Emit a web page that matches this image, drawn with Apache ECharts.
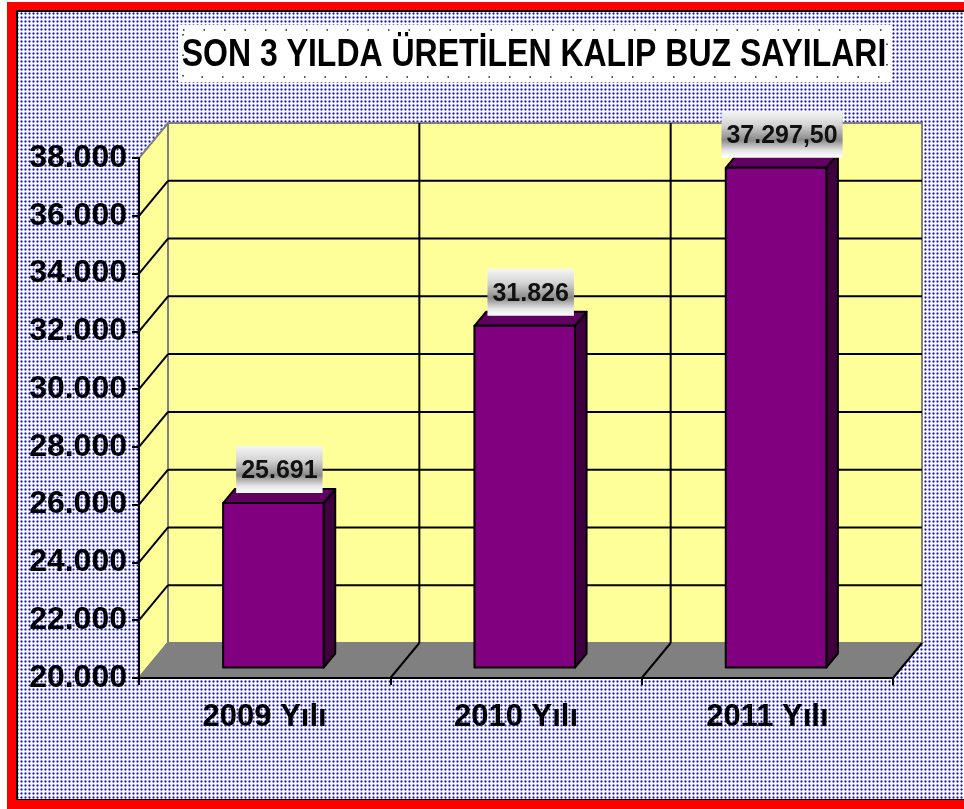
<!DOCTYPE html>
<html>
<head>
<meta charset="utf-8">
<script src="https://cdn.jsdelivr.net/npm/echarts@6/dist/echarts.min.js"></script>
<style>
  html, body { margin: 0; padding: 0; background: #fff; }
  #chart { width: 964px; height: 809px; }
</style>
</head>
<body>
<div id="chart"></div>
<script>
const titleText = 'SON 3 YILDA ÜRETİLEN KALIP BUZ SAYILARI'
const categories = ['2009 Yılı', '2010 Yılı', '2011 Yılı']
const values = [25691, 31826, 37297.5]
const yTicks = [20000, 22000, 24000, 26000, 28000, 30000, 32000, 34000, 36000, 38000]

// 3d look: wall depth in px, bar sits between 30% and 70% of depth
const DX = 29
const DY = -35
const BAR_FRONT = 0.3
const BAR_BACK = 0.7
const BAR_W = 0.4
const FONT = 'Arial, "Liberation Sans", sans-serif'

// tr number format: 38000 -> 38.000, 37297.5 -> 37.297,50
function fmt(v) {
  const isInt = Math.round(v) === v
  const parts = (isInt ? v.toFixed(0) : v.toFixed(2)).split('.')
  const intPart = parts[0].replace(/\B(?=(\d{3})+(?!\d))/g, '.')
  return parts[1] ? intPart + ',' + parts[1] : intPart
}

function dotPattern() {
  const c = document.createElement('canvas')
  c.width = 4
  c.height = 4
  const ctx = c.getContext('2d')
  ctx.fillStyle = '#ffffff'
  ctx.fillRect(0, 0, 4, 4)
  ctx.fillStyle = '#d4d4f6'
  ctx.fillRect(0, 0, 3, 3)
  ctx.fillStyle = '#7a7ad2'
  ctx.fillRect(1, 0, 1, 3)
  ctx.fillRect(0, 1, 3, 1)
  ctx.fillStyle = '#12129a'
  ctx.fillRect(1, 1, 1, 1)
  return c
}

const measureCtx = document.createElement('canvas').getContext('2d')
function textWidth(s, size) {
  measureCtx.font = 'bold ' + size + 'px ' + FONT
  return measureCtx.measureText(s).width
}

const black = '#000'
const grey = '#808080'
const wallFill = '#ffff99'

function renderWalls(params, api) {
  const cs = params.coordSys
  const L = cs.x
  const R = cs.x + cs.width
  const T = api.coord([0, yTicks[yTicks.length - 1]])[1]
  const B = api.coord([0, yTicks[0]])[1]
  const band = api.size([1, 0])[0]
  const children = []
  const poly = (pts, fill, stroke) => ({
    type: 'polygon',
    shape: { points: pts },
    style: { fill: fill, stroke: stroke, lineWidth: 2 }
  })
  const line = (x1, y1, x2, y2, color, w) => ({
    type: 'line',
    shape: { x1: x1, y1: y1, x2: x2, y2: y2 },
    style: { stroke: color, lineWidth: w || 2 }
  })
  children.push(poly([[L + DX, T + DY], [R + DX, T + DY], [R + DX, B + DY], [L + DX, B + DY]], wallFill, grey))
  children.push(poly([[L, B], [L, T], [L + DX, T + DY], [L + DX, B + DY]], wallFill, grey))
  children.push(poly([[L, B], [R, B], [R + DX, B + DY], [L + DX, B + DY]], grey, grey))
  yTicks.slice(1, -1).forEach((v) => {
    const y = api.coord([0, v])[1]
    children.push(line(L + DX, y + DY, R + DX, y + DY, black))
    children.push(line(L, y, L + DX, y + DY, black))
  })
  for (let i = 1; i < categories.length; i++) {
    const x = L + band * i
    children.push(line(x + DX, T + DY, x + DX, B + DY, black))
    children.push(line(x, B, x + DX, B + DY, black))
  }
  children.push(line(R, B, R + DX, B + DY, black))
  return { type: 'group', children: children }
}

function renderBar(params, api) {
  const i = api.value(0)
  const v = api.value(1)
  const top = api.coord([i, v])
  const base = api.coord([i, yTicks[0]])
  const bw = api.size([1, 0])[0] * BAR_W
  const fx = top[0] - bw / 2 + BAR_FRONT * DX
  const ft = top[1] + BAR_FRONT * DY
  const fb = base[1] + BAR_FRONT * DY
  const sdx = (BAR_BACK - BAR_FRONT) * DX
  const sdy = (BAR_BACK - BAR_FRONT) * DY
  const edge = { stroke: black, lineWidth: 2, lineJoin: 'round' }
  const label = fmt(v)
  const lw = textWidth(label, 25) + 10
  const lh = 47
  const lcx = fx + bw / 2 + 6
  const lby = ft - 10
  return {
    type: 'group',
    children: [
      {
        type: 'polygon',
        shape: { points: [[fx + bw, ft], [fx + bw + sdx, ft + sdy], [fx + bw + sdx, fb + sdy], [fx + bw, fb]] },
        style: Object.assign({ fill: '#400040' }, edge)
      },
      {
        type: 'polygon',
        shape: { points: [[fx, ft], [fx + bw, ft], [fx + bw + sdx, ft + sdy], [fx + sdx, ft + sdy]] },
        style: Object.assign({ fill: '#600060' }, edge)
      },
      {
        type: 'rect',
        shape: { x: fx, y: ft, width: bw, height: fb - ft },
        style: Object.assign({ fill: '#800080' }, edge)
      },
      {
        type: 'rect',
        z2: 10,
        shape: { x: lcx - lw / 2, y: lby - lh, width: lw, height: lh },
        style: {
          fill: new echarts.graphic.LinearGradient(0, 0, 0, 1, [
            { offset: 0, color: '#f6f6f6' },
            { offset: 0.3, color: '#d4d4d4' },
            { offset: 0.62, color: '#8a8a8a' },
            { offset: 0.85, color: '#e6e6e6' },
            { offset: 1, color: '#ffffff' }
          ])
        }
      },
      {
        type: 'text',
        z2: 11,
        style: {
          text: label,
          x: lcx,
          y: lby - lh / 2 + 2,
          align: 'center',
          verticalAlign: 'middle',
          font: 'bold 25px ' + FONT,
          fill: '#111'
        }
      }
    ]
  }
}

const chart = echarts.init(document.getElementById('chart'))
const option = {
  animation: false,
  graphic: [
    { type: 'rect', z: -10, shape: { x: 7, y: 2, width: 980, height: 820 }, style: { fill: '#ff0000' } },
    { type: 'rect', z: -10, shape: { x: 16, y: 10, width: 970, height: 790 }, style: { fill: '#000' } },
    { type: 'rect', z: -10, shape: { x: 18, y: 12, width: 970, height: 787 }, style: { fill: { image: dotPattern(), repeat: 'repeat' } } },
    { type: 'rect', z: -9, shape: { x: 178, y: 25, width: 714, height: 57 }, style: { fill: '#ffffff' } },
    {
      type: 'rect', z: -8,
      shape: { x: 183, y: 30, width: 704, height: 47 },
      style: { fill: null, stroke: '#555', lineWidth: 2, lineDash: [1.5, 19] }
    },
    {
      type: 'text', z: -7,
      x: 534, y: 55, scaleY: 1.2,
      style: {
        text: titleText,
        x: 0, y: 0,
        align: 'center',
        verticalAlign: 'middle',
        font: 'bold 32px ' + FONT,
        fill: '#000'
      }
    }
  ],
  grid: { left: 139, right: 71, top: 158, bottom: 131 },
  xAxis: {
    type: 'category',
    data: categories,
    z: 5,
    axisLine: { lineStyle: { color: black, width: 2 } },
    axisTick: { show: true, length: 7, lineStyle: { color: black, width: 2 } },
    axisLabel: { fontFamily: FONT, fontWeight: 'bold', fontSize: 31, color: black, margin: 24 },
    splitLine: { show: false }
  },
  yAxis: {
    type: 'value',
    min: yTicks[0],
    max: yTicks[yTicks.length - 1],
    interval: 2000,
    z: 5,
    axisLine: { show: true, lineStyle: { color: black, width: 2 } },
    axisTick: { show: true, length: 7, lineStyle: { color: black, width: 2 } },
    axisLabel: { fontFamily: FONT, fontWeight: 'bold', fontSize: 32, color: black, margin: 12, formatter: fmt },
    splitLine: { show: false }
  },
  series: [
    { type: 'custom', z: 1, renderItem: renderWalls, data: [[0, yTicks[0]]], silent: true },
    { type: 'custom', z: 3, renderItem: renderBar, data: values.map((v, i) => [i, v]) }
  ]
}
chart.setOption(option)
window.onresize = () => {
  chart.resize()
}
</script>
</body>
</html>
